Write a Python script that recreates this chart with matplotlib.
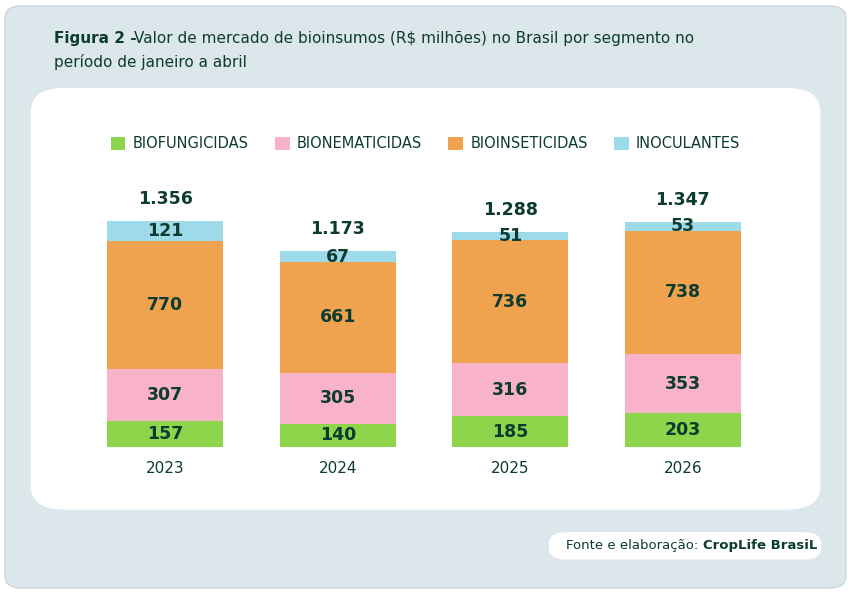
import matplotlib.pyplot as plt
from matplotlib.patches import FancyBboxPatch
import numpy as np

years = ['2023', '2024', '2025', '2026']
totals = ['1.356', '1.173', '1.288', '1.347']
segments = ['BIOFUNGICIDAS', 'BIONEMATICIDAS', 'BIOINSETICIDAS', 'INOCULANTES']
biofung = [157, 140, 185, 203]
bionem = [307, 305, 316, 353]
bioins = [770, 661, 736, 738]
inoc = [121, 67, 51, 53]
colors = ['#8fd54c', '#f8b3c9', '#f0a34f', '#9edbea']
dark = '#0d3b2f'

fig = plt.figure(figsize=(8.51, 5.94), dpi=100)
fig.patch.set_facecolor('white')
fig.patches.append(FancyBboxPatch((0.006, 0.01), 0.988, 0.98, boxstyle='round,pad=0,rounding_size=0.02',
                                  transform=fig.transFigure, fc='#dce7ec', ec='#c9d6dc', lw=1, zorder=-2))
fig.patches.append(FancyBboxPatch((0.036, 0.142), 0.928, 0.71, boxstyle='round,pad=0,rounding_size=0.04',
                                  transform=fig.transFigure, fc='white', ec='none', zorder=-1))
fig.patches.append(FancyBboxPatch((0.645, 0.058), 0.32, 0.046, boxstyle='round,pad=0,rounding_size=0.02',
                                  transform=fig.transFigure, fc='white', ec='none', zorder=-1))

fig.text(0.063, 0.935, 'Figura 2 -', fontsize=11, fontweight='bold', color=dark, va='center')
fig.text(0.158, 0.935, 'Valor de mercado de bioinsumos (R$ milhões) no Brasil por segmento no',
         fontsize=11, color=dark, va='center')
fig.text(0.063, 0.895, 'período de janeiro a abril', fontsize=11, color=dark, va='center')
fig.text(0.665, 0.081, 'Fonte e elaboração:', fontsize=9.5, color=dark, va='center')
fig.text(0.826, 0.081, 'CropLife BrasiL', fontsize=9.5, fontweight='bold', color=dark, va='center')

ax = fig.add_axes([79 / 851, 0.2475, 690 / 851, 0.534])
ax.set_zorder(5)
x = np.arange(len(years))
bottom = np.zeros(len(years))
for vals, c, name in zip([biofung, bionem, bioins, inoc], colors, segments):
    ax.bar(x, vals, width=0.67, bottom=bottom, color=c, label=name)
    for xi, b, v in zip(x, bottom, vals):
        ax.text(xi, b + v / 2, str(v), ha='center', va='center', fontsize=12.5,
                fontweight='bold', color=dark)
    bottom += vals
for xi, t, tot in zip(x, totals, bottom):
    ax.text(xi, tot + 130, t, ha='center', va='center', fontsize=12.5, fontweight='bold', color=dark)

ax.set_xlim(-0.5, 3.5)
ax.set_ylim(0, 1898)
ax.set_xticks(x)
ax.set_xticklabels(years, fontsize=11, color=dark)
ax.tick_params(length=0, pad=10)
ax.set_yticks([])
for s in ax.spines.values():
    s.set_visible(False)
ax.patch.set_alpha(0)

fig.legend(loc='center', bbox_to_anchor=(0.5, 0.758), ncol=4, frameon=False, fontsize=10.5,
           handlelength=1.0, handleheight=1.0, columnspacing=1.8, handletextpad=0.5,
           labelcolor=dark)

fig.savefig('out.png', dpi=100)
